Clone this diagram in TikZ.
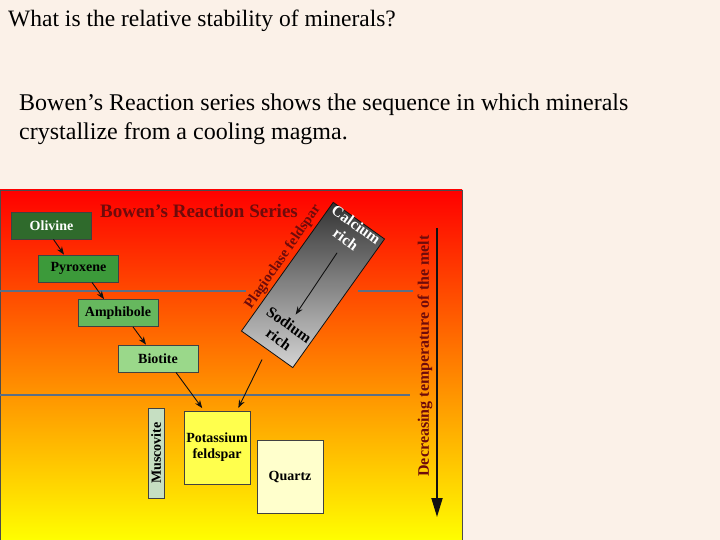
\documentclass[tikz,border=0pt]{standalone}
\usepackage{fontspec}
\setmainfont{Liberation Serif}
\usepackage{tikz}
\usetikzlibrary{positioning, arrows.meta}
\definecolor{paper}{HTML}{FBF1E8}
\definecolor{ink}{HTML}{111111}
\definecolor{titlered}{HTML}{6E0B0B}
\definecolor{divider}{HTML}{5B6F86}
\definecolor{olivine}{HTML}{2F6A2C}
\definecolor{pyroxene}{HTML}{3C9A3A}
\definecolor{amphibole}{HTML}{66B85E}
\definecolor{biotite}{HTML}{9AD88A}
\definecolor{muscovite}{HTML}{C6DFC2}
\definecolor{kspar}{HTML}{FFFF4D}
\definecolor{quartz}{HTML}{FFFFCC}
\definecolor{plagdark}{HTML}{333333}
\definecolor{plaglight}{HTML}{D4D4D4}
\tikzset{
  mineral/.style  = {rectangle, draw=ink!80, line width=0.8pt, fill=#1,
                     minimum width=80pt, minimum height=27pt, inner sep=0pt,
                     align=center, font=\fontsize{14}{16}\selectfont\bfseries},
  felsic/.style   = {mineral=#1, minimum width=66pt, minimum height=73pt},
  plagbox/.style  = {rectangle, draw=ink, line width=0.8pt, top color=plagdark,
                     bottom color=plaglight, minimum width=63pt, minimum height=158pt,
                     inner sep=0pt, rotate=-35.5},
  plagtext/.style = {align=center, rotate=-35.5, inner sep=0pt,
                     font=\fontsize{15.5}{18}\selectfont\bfseries},
  ar/.style       = {-{Stealth[length=8pt,width=6pt]}, line width=0.9pt, draw=ink},
}

\begin{document}
\begin{tikzpicture}[x=1pt, y=-1pt,
    divider/.style={draw=divider, line width=1.2pt},
    heading/.style={inner sep=0pt, text=titlered, font=\fontsize{19}{22}\selectfont\bfseries},
    slide/.style={anchor=base west, inner sep=0pt, text=black},
  ]
  \useasboundingbox (0,0) rectangle (720,540);
  \fill[paper] (0,0) rectangle (720,540);

  % slide text
  \node[slide, font=\fontsize{23.5}{28}\selectfont] (question) at (8,27)
       {What is the relative stability of minerals?};
  \node[slide, font=\fontsize{24}{28}\selectfont] (introA) at (19,111)
       {Bowen’s Reaction series shows the sequence in which minerals};
  \node[slide, font=\fontsize{24}{28}\selectfont] (introB) at (19,140)
       {crystallize from a cooling magma.};

  % panel
  \shade[top color=red, bottom color=yellow] (0,190) rectangle (462,541);
  \draw[ink!75, line width=0.8pt] (0,541) -- (0,190) -- (462,190) -- (462,541);
  \draw[divider] (0,291) -- (246,291);
  \draw[divider] (358,291) -- (413,291);
  \draw[divider] (0,395) -- (410,395);

  \node[heading] (title) at (199,211) {Bowen's Reaction Series};

  % discontinuous branch
  \node[mineral=olivine, text=white] (olivine) at (51.5,225.5) {Olivine};
  \node[mineral=pyroxene] (pyroxene) at (78.5,268.5) {Pyroxene};
  \node[mineral=amphibole] (amphibole) at (118,313) {Amphibole};
  \node[mineral=biotite] (biotite) at (158,358.5) {Biotite};

  % continuous branch
  \node[plagbox] (plag) at (313,285) {};
  \node[plagtext, text=white] (calcium) at (351,232) {Calcium\\rich};
  \node[plagtext, text=black] (sodium) at (284,332) {Sodium\\rich};
  \node[heading, rotate=55.5, font=\fontsize{14.5}{16}\selectfont\bfseries] (plaglabel) at (283,257)
       {Plagioclase feldspar};

  % late minerals
  \node[mineral=muscovite, rotate=90, minimum width=90pt, minimum height=16pt] (muscovite)
       at (156,453) {Muscovite};
  \node[felsic=kspar] (kspar) at (217,447.5) {Potassium\\feldspar};
  \node[felsic=quartz] (quartz) at (290,476.5) {Quartz};

  \draw[ar] ([xshift=2pt]olivine.south) -- ([xshift=-14.5pt]pyroxene.north);
  \draw[ar] ([xshift=13.5pt]pyroxene.south) -- ([xshift=-14pt]amphibole.north);
  \draw[ar] ([xshift=15pt]amphibole.south) -- ([xshift=-12pt]biotite.north);
  \draw[ar, shorten >=3pt] ([xshift=18pt]biotite.south) -- ([xshift=-13pt]kspar.north);
  \draw[ar, shorten <=11pt, shorten >=3pt] (plag.south) -- ([xshift=20pt]kspar.north);
  \draw[ar, shorten <=25pt, shorten >=21pt] (calcium.center) -- (sodium.center);

  % temperature axis
  \coordinate (tempTop) at (437,228);
  \coordinate (tempBot) at (437,517);
  \draw[ink, line width=1.8pt, -{Triangle[length=19pt,width=11pt]}] (tempTop) -- (tempBot);
  \node[heading, rotate=90, font=\fontsize{16}{18}\selectfont\bfseries] (templabel) at (425,356)
       {Decreasing temperature of the melt};
\end{tikzpicture}
\end{document}
